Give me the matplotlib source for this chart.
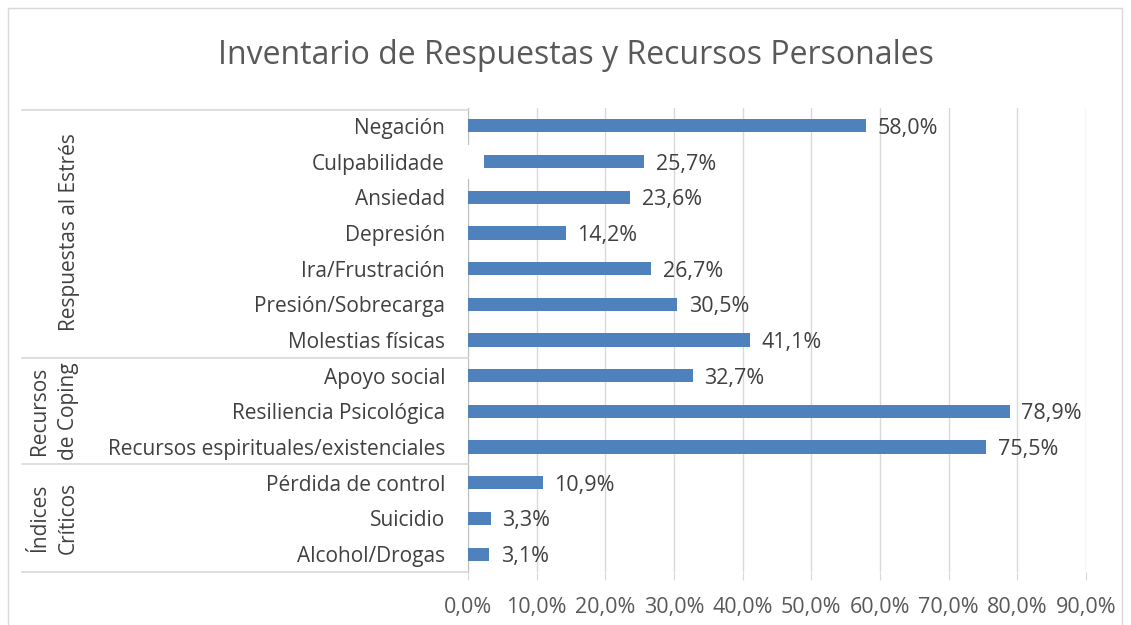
import matplotlib.pyplot as plt
import numpy as np
from matplotlib.patches import Rectangle

categories = ["Negación", "Culpabilidade", "Ansiedad", "Depresión",
              "Ira/Frustración", "Presión/Sobrecarga", "Molestias físicas",
              "Apoyo social", "Resiliencia Psicológica",
              "Recursos espirituales/existenciales",
              "Pérdida de control", "Suicidio", "Alcohol/Drogas"]
values = [58.0, 25.7, 23.6, 14.2, 26.7, 30.5, 41.1,
          32.7, 78.9, 75.5, 10.9, 3.3, 3.1]
groups = ["Respuestas al Estrés", "Recursos\nde Coping", "Índices\nCríticos"]
xticks = [0, 10, 20, 30, 40, 50, 60, 70, 80, 90]

plt.rcParams["font.family"] = ["Open Sans", "DejaVu Sans"]
W, H = 1131, 625
fig = plt.figure(figsize=(W / 100, H / 100), dpi=100)
ax = fig.add_axes([468 / W, 1 - 572 / H, (1086 - 468) / W, (572 - 108) / H])

y = np.arange(len(categories))[::-1]
ax.barh(y, values, height=0.37, color="#4F81BD", zorder=3)
for yi, v in zip(y, values):
    ax.text(v + 1.7, yi, "{:.1f}%".format(v).replace(".", ","),
            va="center_baseline", ha="left", fontsize=15.5, color="#404040")

ax.set_xlim(0, 90)
ax.set_ylim(-0.5, len(categories) - 0.5)
ax.set_xticks(xticks)
ax.set_xticklabels(["{:.1f}%".format(t).replace(".", ",") for t in xticks],
                   fontsize=15.5, color="#595959")
ax.tick_params(axis="x", length=6, color="#D9D9D9", pad=12)
ax.set_yticks([])
ax.grid(axis="x", color="#D9D9D9", linewidth=1, zorder=0)
for s in ["top", "right", "bottom"]:
    ax.spines[s].set_visible(False)
ax.spines["left"].set_color("#BFBFBF")


def fy(py):
    return 1 - py / H


# category table on the left
line_kw = dict(color="#D9D9D9", linewidth=1.2, transform=fig.transFigure)
for py in [110, 358, 464, 572]:
    fig.add_artist(plt.Line2D([22 / W, 468 / W], [fy(py), fy(py)], **line_kw))

for yi, name in zip(y, categories):
    py = 108 + (len(categories) - 1 - yi + 0.5) * (464 / 13)
    fig.text(445 / W, fy(py), name, ha="right", va="center_baseline",
             fontsize=15, color="#404040")

# white box pasted over the Culpabilidade row
py_c = 108 + 1.5 * (464 / 13)
fig.add_artist(Rectangle((447 / W, fy(py_c + 17)), 37 / W, 34 / H,
                         facecolor="white", edgecolor="none",
                         transform=fig.transFigure, zorder=5))

group_pos = [(70, 232), (54, 411), (54, 518)]
for g, (gx, gy) in zip(groups, group_pos):
    fig.text(gx / W, fy(gy), g, rotation=90, ha="center", va="center",
             fontsize=15, color="#404040", linespacing=1.45)

fig.text(576 / W, fy(55), "Inventario de Respuestas y Recursos Personales",
         ha="center", va="center", fontsize=23, color="#595959")

fig.add_artist(Rectangle((8 / W, -0.05), (1122 - 8) / W, fy(8) + 0.05,
                         facecolor="none", edgecolor="#D9D9D9", linewidth=1,
                         transform=fig.transFigure))

plt.savefig("out.png", dpi=100, facecolor="white")
